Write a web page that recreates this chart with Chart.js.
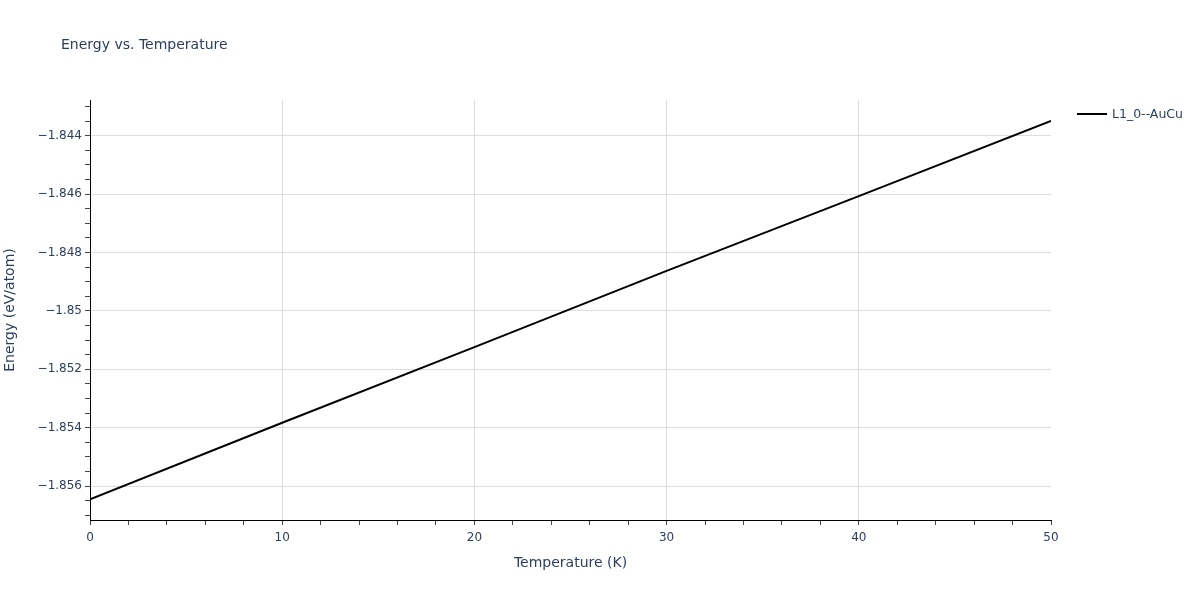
<!DOCTYPE html>
<html>
<head>
<meta charset="utf-8">
<script src="https://cdn.jsdelivr.net/npm/chart.js@4/dist/chart.umd.min.js"></script>
<style>
  html, body { margin: 0; padding: 0; background: #fff; }
  #wrap { position: relative; width: 1200px; height: 600px; }
  #title { position: absolute; left: 61px; top: 36px; font: 14px "DejaVu Sans", sans-serif; color: #2a3f5f; white-space: nowrap; }
  #legend { position: absolute; left: 1077px; top: 106px; font: 12.5px "DejaVu Sans", sans-serif; color: #2a3f5f; display: flex; align-items: center; white-space: nowrap; }
  #legend .sw { width: 30px; height: 2px; background: #000; margin-right: 5px; }
</style>
</head>
<body>
<div id="wrap">
  <canvas id="c" width="1200" height="600"></canvas>
  <div id="title">Energy vs. Temperature</div>
  <div id="legend"><span class="sw"></span><span>L1_0--AuCu</span></div>
</div>
<script>
// Data
const seriesName = "L1_0--AuCu";
const temperatures = [0, 10, 20, 30, 40, 50];
const energies = [-1.85645, -1.85383, -1.85124, -1.84863, -1.84607, -1.84349];
// Axis tick labels
const xMajorTicks = [0, 10, 20, 30, 40, 50];
const yMajorTicks = [-1.856, -1.854, -1.852, -1.85, -1.848, -1.846, -1.844];
const yLabels = ["−1.856", "−1.854", "−1.852", "−1.85", "−1.848", "−1.846", "−1.844"];

const X_MIN = 0, X_MAX = 50;
const Y_MIN = -1.857161, Y_MAX = -1.842777;
const X_MINOR = 2, Y_MINOR = 0.0005;

function isMajorY(v) { return yMajorTicks.some(t => Math.abs(t - v) < 1e-7); }
function isMajorX(v) { return xMajorTicks.some(t => Math.abs(t - v) < 1e-7); }

const fam = '"DejaVu Sans", sans-serif';
const font = { family: fam, size: 12 };
const textColor = '#2a3f5f';

new Chart(document.getElementById('c'), {
  type: 'line',
  data: {
    datasets: [{
      label: seriesName,
      data: temperatures.map((t, i) => ({ x: t, y: energies[i] })),
      borderColor: '#000',
      borderWidth: 2,
      pointRadius: 0,
      tension: 0,
      fill: false
    }]
  },
  options: {
    responsive: false,
    animation: false,
    layout: { padding: { left: 0, top: 100, right: 149, bottom: 0 } },
    plugins: { legend: { display: false }, title: { display: false }, tooltip: { enabled: false } },
    scales: {
      x: {
        type: 'linear', min: X_MIN, max: X_MAX,
        afterFit: s => { s.height = 80; },
        afterBuildTicks: s => {
          const t = [];
          for (let v = X_MIN; v <= X_MAX + 1e-9; v += X_MINOR) t.push({ value: Math.round(v * 1000) / 1000 });
          s.ticks = t;
        },
        ticks: {
          font, color: textColor, padding: 6, maxRotation: 0, autoSkip: false,
          callback: v => isMajorX(v) ? String(v) : ''
        },
        grid: {
          color: c => (c.tick && isMajorX(c.tick.value) && c.tick.value !== X_MIN && c.tick.value !== X_MAX) ? '#dddddd' : 'rgba(0,0,0,0)',
          tickColor: '#444', tickLength: 5, drawTicks: true, lineWidth: 1
        },
        border: { display: true, color: '#000', width: 1 },
        title: { display: true, text: 'Temperature (K)', font: { family: fam, size: 14 }, color: textColor, padding: { top: 0, bottom: 28 } }
      },
      y: {
        type: 'linear', min: Y_MIN, max: Y_MAX,
        afterFit: s => { s.width = 90; },
        afterBuildTicks: s => {
          const t = [];
          const start = Math.ceil(Y_MIN / Y_MINOR - 1e-6);
          const end = Math.floor(Y_MAX / Y_MINOR + 1e-6);
          for (let k = start; k <= end; k++) t.push({ value: Math.round(k * Y_MINOR * 1e6) / 1e6 });
          s.ticks = t;
        },
        ticks: {
          font, color: textColor, padding: 3, autoSkip: false,
          callback: v => { const i = yMajorTicks.findIndex(t => Math.abs(t - v) < 1e-7); return i >= 0 ? yLabels[i] : ''; }
        },
        grid: {
          color: c => (c.tick && isMajorY(c.tick.value)) ? '#dddddd' : 'rgba(0,0,0,0)',
          tickColor: '#444', tickLength: 5, drawTicks: true, lineWidth: 1
        },
        border: { display: true, color: '#000', width: 1 },
        title: { display: true, text: 'Energy (eV/atom)', font: { family: fam, size: 14 }, color: textColor, padding: { top: 2, bottom: 0 } }
      }
    }
  }
});
</script>
</body>
</html>
